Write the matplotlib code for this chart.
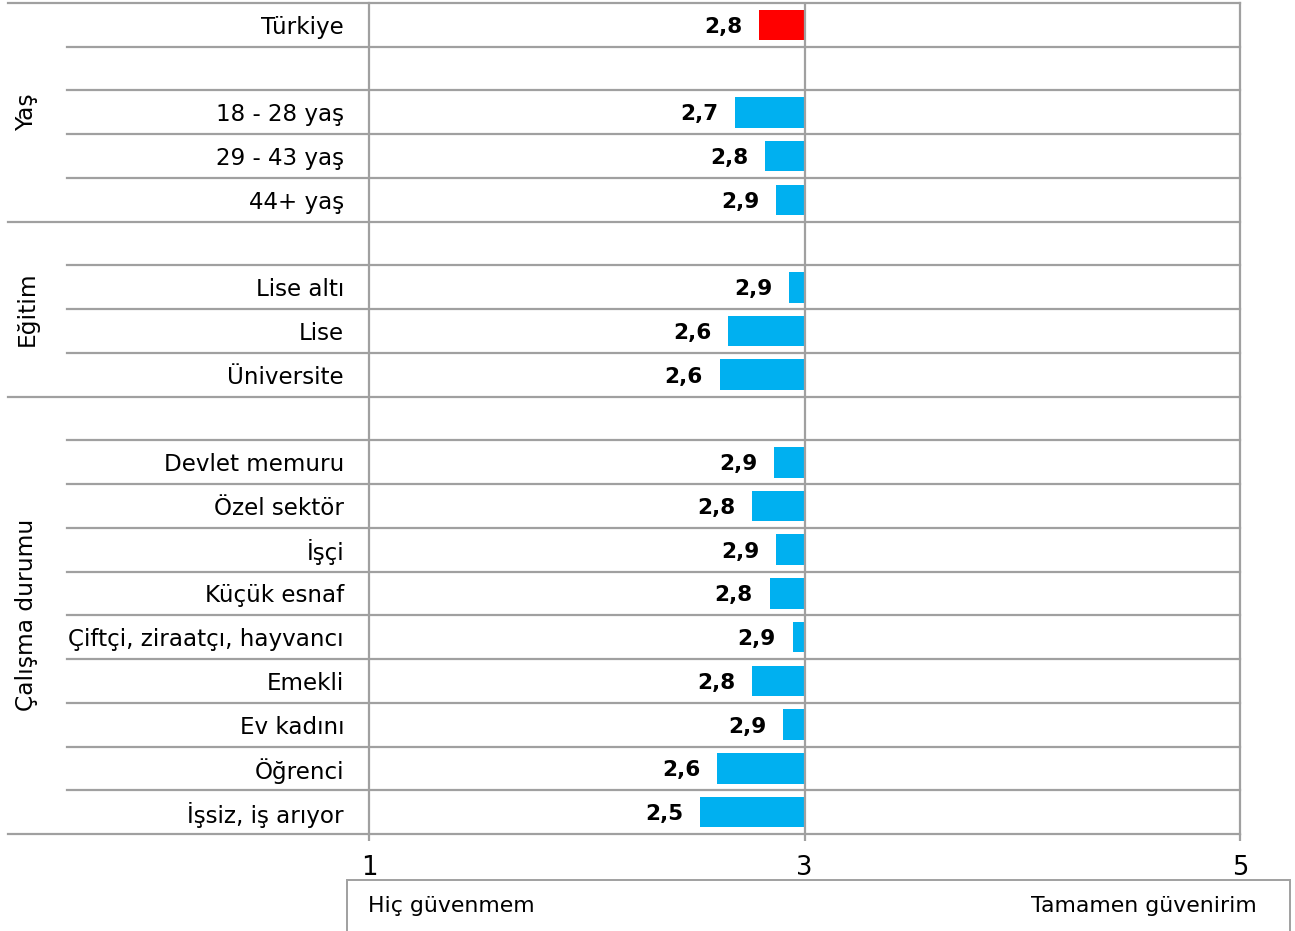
import matplotlib
matplotlib.use("Agg")
import matplotlib.pyplot as plt
from matplotlib.patches import Rectangle
from matplotlib.transforms import blended_transform_factory

# rows from top to bottom, blank rows separate the groups
categories = ["Türkiye", "", "18 - 28 yaş", "29 - 43 yaş", "44+ yaş",
              "", "Lise altı", "Lise", "Üniversite",
              "", "Devlet memuru", "Özel sektör", "İşçi", "Küçük esnaf",
              "Çiftçi, ziraatçı, hayvancı", "Emekli", "Ev kadını", "Öğrenci",
              "İşsiz, iş arıyor"]
values = [2.79, None, 2.68, 2.82, 2.87,
          None, 2.93, 2.65, 2.61,
          None, 2.86, 2.76, 2.87, 2.84, 2.945, 2.76, 2.90, 2.60, 2.52]
groups = ["Yaş", "Eğitim", "Çalışma durumu"]
group_rows = [(0, 4), (5, 8), (9, 18)]
x_ticks = [1, 3, 5]
scale_low = "Hiç güvenmem"
scale_high = "Tamamen güvenirim"

midpoint = 3
grid_color = "#A0A0A0"

W, H = 1295, 931
fig = plt.figure(figsize=(W / 100, H / 100), dpi=100)
ax_left, ax_right, ax_top, ax_bottom = 369, 1240, 3, 834
ax = fig.add_axes([ax_left / W, 1 - ax_bottom / H,
                   (ax_right - ax_left) / W, (ax_bottom - ax_top) / H])

n = len(categories)
ax.set_xlim(1, 5)
ax.set_ylim(n - 0.5, -0.5)

for i, v in enumerate(values):
    if v is None:
        continue
    color = "#FF0000" if i == 0 else "#00B0F0"
    ax.barh(i, v - midpoint, left=midpoint, height=0.7, color=color, zorder=3)
    ax.annotate(f"{v:.1f}".replace(".", ","), xy=(v, i), xytext=(-12, 0),
                textcoords="offset points", ha="right", va="center_baseline",
                fontsize=15.5, fontweight="bold", color="black")

# horizontal row lines, longer at group boundaries
trans = blended_transform_factory(ax.transAxes, ax.transData)
row_x0 = (67 - ax_left) / (ax_right - ax_left)
group_x0 = (8 - ax_left) / (ax_right - ax_left)
group_edges = [g[0] - 0.5 for g in group_rows] + [n - 0.5]
for k in range(n + 1):
    y = k - 0.5
    x0 = group_x0 if y in group_edges else row_x0
    ax.plot([x0, 1], [y, y], transform=trans, color=grid_color, lw=1.6,
            clip_on=False, zorder=2)

ax.axvline(midpoint, color=grid_color, lw=1.6, zorder=4)

for side in ["top", "bottom"]:
    ax.spines[side].set_visible(False)
for side in ["left", "right"]:
    ax.spines[side].set_color(grid_color)
    ax.spines[side].set_linewidth(1.6)

ax.set_xticks(x_ticks)
ax.set_xticklabels([str(t) for t in x_ticks])
ax.tick_params(axis="x", length=5, width=1.6, color=grid_color, pad=10,
               labelsize=18.5)
ax.set_yticks(range(n))
ax.set_yticklabels(categories)
ax.tick_params(axis="y", length=0, pad=18, labelsize=16.6)

# group labels on the far left
for name, (r0, r1) in zip(groups, group_rows):
    yc = (r0 + r1) / 2
    ax.text((27 - ax_left) / (ax_right - ax_left), yc, name, transform=trans,
            rotation=90, ha="center", va="center", fontsize=16.8)

# scale box under the axis, open at the bottom edge of the figure
bx0, by0 = 347, 880
fig.patches.append(Rectangle((bx0 / W, -0.05), (1290 - bx0) / W,
                             1 - by0 / H + 0.05,
                             transform=fig.transFigure, fill=False,
                             edgecolor=grid_color, lw=1.4))
fig.text(368 / W, 1 - 906 / H, scale_low, ha="left", va="center", fontsize=15.8)
fig.text(1257 / W, 1 - 906 / H, scale_high, ha="right", va="center",
         fontsize=15.8)

fig.savefig("out.png", dpi=100)
